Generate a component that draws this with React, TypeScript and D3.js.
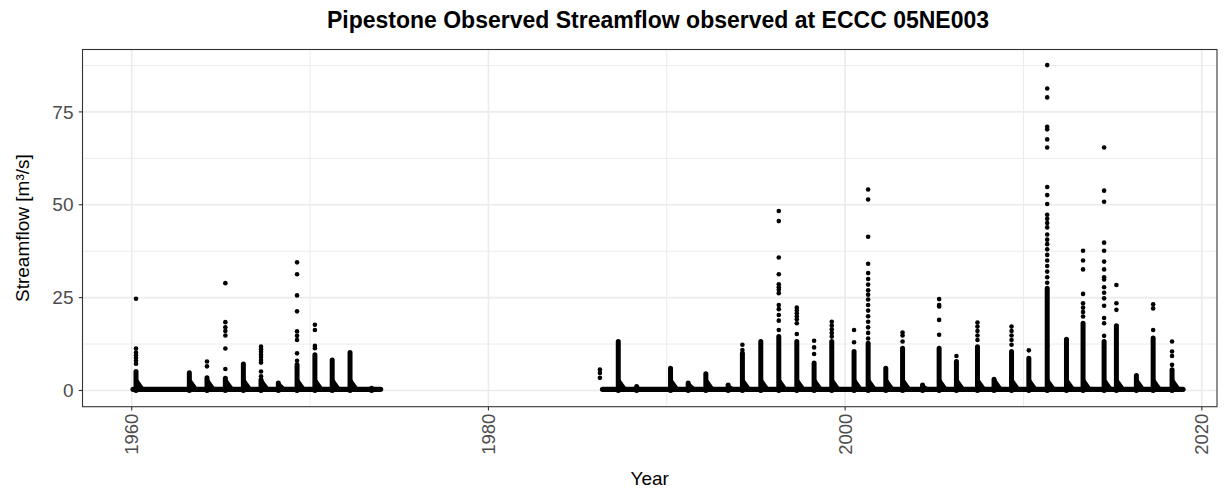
import React from "react";
import * as d3 from "d3";

// ---- data ----
const titleText = "Pipestone Observed Streamflow observed at ECCC 05NE003";
const xTickYears = [1960, 1980, 2000, 2020];
const xMinorYears = [1970, 1990, 2010];
const yTicks = [0, 25, 50, 75];
const yMinor = [12.5, 37.5, 62.5, 87.5];

// periods of record (decimal years) – low/zero flow baseline
const recordPeriods: [number, number][] = [
  [1960.08, 1973.95],
  [1986.4, 2018.94],
];

// spring events: time (decimal year), top of dense run of daily values, and sparse higher daily values
const eventTimes = [
  1960.24, 1963.23, 1964.22, 1965.25, 1966.26, 1967.25, 1968.22, 1969.27, 1970.27, 1971.24, 1972.24, 1973.45,
  1986.25, 1987.28, 1988.31, 1990.21, 1991.2, 1992.19, 1993.44, 1994.24, 1995.27, 1996.28, 1997.29, 1998.26,
  1999.25, 2000.5, 2001.29, 2002.28, 2003.22, 2004.34, 2005.27, 2006.24, 2007.42, 2008.35, 2009.33, 2010.3,
  2011.33, 2012.41, 2013.34, 2014.52, 2015.21, 2016.33, 2017.27, 2018.33,
];
const eventDenseTops = [
  5.1, 4.8, 3.4, 3.3, 7.1, 2.9, 2.0, 6.9, 9.6, 8.2, 10.2, 0.6,
  0, 13.2, 1.1, 6.0, 2.0, 4.5, 1.5, 10.0, 13.2, 14.5, 13.2, 7.4,
  13.2, 10.5, 12.7, 6.0, 11.4, 1.5, 11.4, 7.8, 11.8, 3.0, 10.5, 8.7,
  27.5, 13.8, 18.1, 13.2, 17.4, 4.0, 14.1, 5.6,
];
const eventPeaks: number[][] = [
  [24.7, 11.3, 10.2, 9.5, 8.8, 8.0, 7.2],
  [],
  [7.8, 6.5],
  [28.9, 18.4, 17.0, 16.0, 14.8, 11.3, 5.8],
  [],
  [11.8, 11.1, 10.4, 9.7, 9.0, 8.2, 7.5, 5.1, 3.8],
  [],
  [34.5, 31.3, 25.6, 21.3, 15.9, 14.7, 13.6, 10.0, 8.0],
  [17.7, 16.3, 12.0, 11.4],
  [],
  [],
  [],
  [5.6, 4.7, 3.4],
  [],
  [],
  [],
  [],
  [],
  [],
  [12.3, 10.9],
  [],
  [48.3, 45.6, 35.8, 31.3, 28.6, 27.8, 27.1, 26.2, 23.0, 21.9, 20.3, 18.8, 16.3],
  [22.3, 21.5, 20.8, 20.0, 19.2, 18.1, 15.2],
  [13.4, 11.6, 9.8],
  [18.5, 17.5, 16.5, 15.5, 14.5],
  [16.3, 13.0],
  [54.1, 51.4, 41.4, 34.1, 31.6, 30.0, 28.5, 27.0, 25.8, 24.5, 23.0, 21.5, 20.0, 18.5, 17.0, 15.5, 14.0],
  [],
  [15.6, 14.8, 13.2],
  [],
  [24.6, 23.0, 22.6, 19.0, 15.0],
  [9.3],
  [18.3, 17.2, 16.0, 14.8, 13.6],
  [],
  [17.2, 16.0, 14.8, 13.6, 12.3],
  [10.8],
  [87.6, 81.3, 78.9, 71.0, 70.3, 67.6, 65.4, 54.8, 52.6, 50.2, 47.3, 46.2, 45.1, 43.9, 42.0, 40.6, 39.4, 38.0, 36.5, 35.0, 33.5, 32.0, 30.5, 29.0, 12.0],
  [],
  [37.6, 35.0, 32.6, 26.0, 23.5, 22.3, 21.1, 19.9],
  [65.4, 53.8, 50.8, 39.8, 37.6, 34.7, 32.6, 30.5, 29.9, 27.8, 26.3, 24.8, 22.8, 19.5, 18.1, 14.7],
  [28.4, 23.5, 21.7],
  [],
  [23.2, 22.1, 16.3],
  [13.2, 10.5, 9.3, 6.9],
];

// ---- layout ----
const W = 1227;
const H = 488;
const panel = { left: 82.5, right: 1217, top: 49.5, bottom: 406.7 };
const FONT = "'Liberation Sans', Arial, Helvetica, sans-serif";
const DOT_R = 2.3;

export default function App() {
  const x = d3.scaleLinear().domain([1957.24, 2020.85]).range([panel.left, panel.right]);
  const y = d3.scaleLinear().domain([-4.37, 91.8]).range([panel.bottom, panel.top]);

  const grid = "#EBEBEB";
  const dots: { t: number; v: number }[] = [];
  eventTimes.forEach((t, i) => eventPeaks[i].forEach((v) => dots.push({ t, v })));

  return (
    <svg
      width={W}
      height={H}
      style={{ position: "absolute", left: 0, top: 0, background: "#fff" }}
      fontFamily={FONT}
    >
      <rect x={0} y={0} width={W} height={H} fill="#fff" />
      <clipPath id="pc">
        <rect x={panel.left} y={panel.top} width={panel.right - panel.left} height={panel.bottom - panel.top} />
      </clipPath>
      {/* grid */}
      <g>
        {yMinor.map((v) => (
          <line key={"ym" + v} x1={panel.left} x2={panel.right} y1={y(v)} y2={y(v)} stroke={grid} strokeWidth={1} />
        ))}
        {xMinorYears.map((v) => (
          <line key={"xm" + v} y1={panel.top} y2={panel.bottom} x1={x(v)} x2={x(v)} stroke={grid} strokeWidth={1} />
        ))}
        {yTicks.map((v) => (
          <line key={"yM" + v} x1={panel.left} x2={panel.right} y1={y(v)} y2={y(v)} stroke={grid} strokeWidth={1.6} />
        ))}
        {xTickYears.map((v) => (
          <line key={"xM" + v} y1={panel.top} y2={panel.bottom} x1={x(v)} x2={x(v)} stroke={grid} strokeWidth={1.6} />
        ))}
      </g>
      {/* data */}
      <g clipPath="url(#pc)">
        {recordPeriods.map(([a, b], i) => (
          <line
            key={"rp" + i}
            x1={x(a)}
            x2={x(b)}
            y1={y(0.3)}
            y2={y(0.3)}
            stroke="#000"
            strokeWidth={DOT_R * 2 + 0.8}
            strokeLinecap="round"
          />
        ))}
        {eventTimes.map((t, i) =>
          eventDenseTops[i] > 0 ? (
            <line
              key={"ev" + i}
              x1={x(t)}
              x2={x(t)}
              y1={y(0)}
              y2={y(eventDenseTops[i])}
              stroke="#000"
              strokeWidth={DOT_R * 2 + 0.4}
              strokeLinecap="round"
            />
          ) : null
        )}
        {eventTimes.map((t, i) =>
          eventDenseTops[i] > 0 ? (
            <path
              key={"ft" + i}
              d={`M${x(t) - 3},${y(0)} L${x(t) + 2},${y(Math.min(eventDenseTops[i], 3))} L${x(t) + 10},${y(0)} Z`}
              fill="#000"
            />
          ) : null
        )}
        {dots.map((d, i) => (
          <circle key={"d" + i} cx={x(d.t)} cy={y(d.v)} r={DOT_R} fill="#000" />
        ))}
      </g>
      {/* panel border */}
      <rect
        x={panel.left}
        y={panel.top}
        width={panel.right - panel.left}
        height={panel.bottom - panel.top}
        fill="none"
        stroke="#333333"
        strokeWidth={1.1}
      />
      {/* y axis */}
      {yTicks.map((v) => (
        <g key={"yt" + v}>
          <line x1={panel.left - 3.7} x2={panel.left} y1={y(v)} y2={y(v)} stroke="#333333" strokeWidth={1.1} />
          <text x={panel.left - 9} y={y(v)} dy="0.35em" textAnchor="end" fontSize={19} fill="#4D4D4D">
            {v}
          </text>
        </g>
      ))}
      {/* x axis */}
      {xTickYears.map((v) => (
        <g key={"xt" + v}>
          <line x1={x(v)} x2={x(v)} y1={panel.bottom} y2={panel.bottom + 3.7} stroke="#333333" strokeWidth={1.1} />
          <text
            transform={`translate(${x(v)},${panel.bottom + 7}) rotate(-90)`}
            dy="0.35em"
            textAnchor="end"
            fontSize={18.5}
            fill="#4D4D4D"
          >
            {v}
          </text>
        </g>
      ))}
      <text x={(panel.left + panel.right) / 2} y={485} textAnchor="middle" fontSize={19} fill="#000">
        Year
      </text>
      <text transform={`translate(29,${(panel.top + panel.bottom) / 2}) rotate(-90)`} textAnchor="middle" fontSize={19} fill="#000">
        Streamflow [m³/s]
      </text>
      <text x={658} y={28} textAnchor="middle" fontSize={23} fontWeight="bold" fill="#000">
        {titleText}
      </text>
    </svg>
  );
}
